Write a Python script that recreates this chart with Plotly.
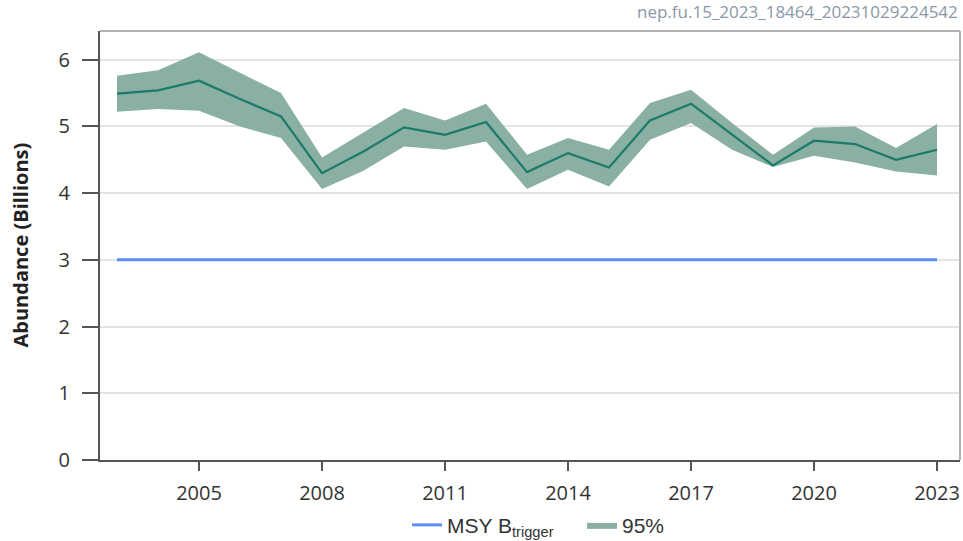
import plotly.graph_objects as go

years = list(range(2003, 2024))
abundance = [5.49, 5.54, 5.685, 5.41, 5.15, 4.30, 4.62, 4.985, 4.875, 5.065,
             4.315, 4.60, 4.385, 5.09, 5.34, 4.875, 4.415, 4.785, 4.735, 4.50, 4.65]
upper = [5.76, 5.84, 6.11, 5.80, 5.50, 4.535, 4.90, 5.275, 5.09, 5.34,
         4.575, 4.825, 4.65, 5.35, 5.55, 5.05, 4.575, 4.985, 5.00, 4.675, 5.035]
lower = [5.22, 5.26, 5.235, 5.00, 4.825, 4.06, 4.33, 4.70, 4.65, 4.775,
         4.06, 4.35, 4.10, 4.80, 5.05, 4.65, 4.39, 4.56, 4.46, 4.325, 4.265]
msy_btrigger = [3.0] * len(years)
x_ticks = [2005, 2008, 2011, 2014, 2017, 2020, 2023]
y_ticks = [0, 1, 2, 3, 4, 5, 6]

fig = go.Figure()
fig.add_trace(go.Scatter(
    x=years, y=msy_btrigger, mode="lines", name="MSY B<sub>trigger</sub>",
    line=dict(color="#5b8ef5", width=3), hoverinfo="skip"))
fig.add_trace(go.Scatter(
    x=years + years[::-1], y=upper + lower[::-1], mode="lines", fill="toself",
    fillcolor="#8aafa3", line=dict(width=0, color="#8aafa3"), name="95%",
    hoverinfo="skip"))
fig.add_trace(go.Scatter(
    x=years, y=abundance, mode="lines", showlegend=False,
    line=dict(color="#1b7a68", width=2.2)))

axis_font = dict(family="Open Sans", size=20, color="#333333")
fig.update_layout(
    width=963, height=541,
    margin=dict(l=100, r=3, t=31, b=81, autoexpand=False),
    plot_bgcolor="white", paper_bgcolor="white",
    font=dict(family="Open Sans", color="#333333"),
    showlegend=True,
    legend=dict(orientation="h", x=0.5 + 52 / 860, xanchor="center", y=-0.152,
                yanchor="middle",
                font=dict(family="Liberation Sans", size=21, color="#333333"),
                itemwidth=30, tracegroupgap=0, entrywidth=130,
                entrywidthmode="pixels"),
    xaxis=dict(range=[2002.585, 2023.56], tickvals=x_ticks, ticks="outside",
               ticklen=9, tickwidth=2, tickcolor="#555555", tickfont=axis_font,
               showgrid=False, zeroline=False, showline=True, linecolor="#555555",
               linewidth=2, mirror=False, ticklabelstandoff=5, automargin=False),
    yaxis=dict(range=[0, 6.43], tickvals=y_ticks, ticks="outside", ticklen=16,
               tickwidth=2, tickcolor="#555555", tickfont=axis_font,
               showgrid=True, gridcolor="#e4e4e4", gridwidth=2, zeroline=False,
               showline=True, linecolor="#555555", linewidth=2, ticklabelstandoff=8,
               automargin=False),
    shapes=[
        dict(type="line", xref="paper", yref="paper", x0=0, x1=1, y0=1, y1=1,
             line=dict(color="#b0b0b0", width=2)),
        dict(type="line", xref="paper", yref="paper", x0=1, x1=1, y0=0, y1=1,
             line=dict(color="#b0b0b0", width=2)),
    ],
    annotations=[
        dict(text="nep.fu.15_2023_18464_20231029224542", xref="paper",
             yref="paper", x=1, y=1, xanchor="right", yanchor="bottom",
             yshift=6, xshift=0, showarrow=False,
             font=dict(family="Open Sans", size=17, color="#8a98a8")),
        dict(text="<b>Abundance (Billions)</b>", xref="paper", yref="paper",
             x=-80 / 860, y=0.5, xanchor="center", yanchor="middle", textangle=-90,
             showarrow=False,
             font=dict(family="Open Sans", size=20, color="#222222")),
    ],
)
fig.write_html("out.html", config={"displayModeBar": False},
               post_script="document.body.style.margin='0px';")
